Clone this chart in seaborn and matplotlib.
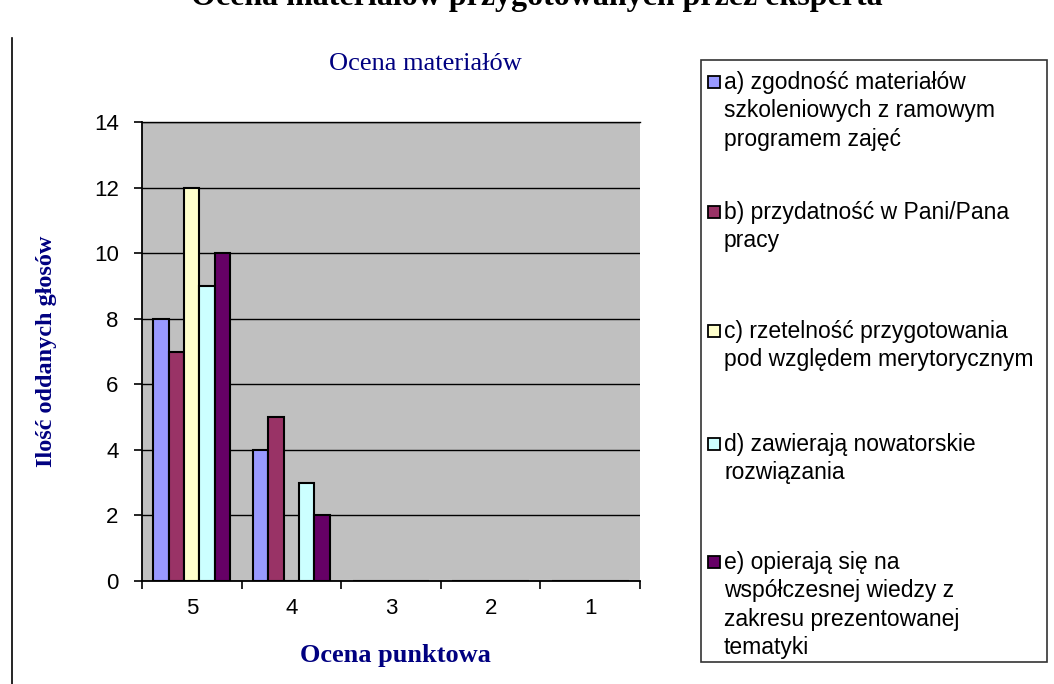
import pandas as pd
import seaborn as sns
import matplotlib.pyplot as plt
from matplotlib.patches import Rectangle
from matplotlib.lines import Line2D

# dane
oceny = ['5', '4', '3', '2', '1']
kryteria = [
    'a) zgodność materiałów\nszkoleniowych z ramowym\nprogramem zajęć',
    'b) przydatność w Pani/Pana\npracy',
    'c) rzetelność przygotowania\npod względem merytorycznym',
    'd) zawierają nowatorskie\nrozwiązania',
    'e) opierają się na\nwspółczesnej wiedzy z\nzakresu prezentowanej\ntematyki',
]
glosy_a = [8, 4, 0, 0, 0]
glosy_b = [7, 5, 0, 0, 0]
glosy_c = [12, 0, 0, 0, 0]
glosy_d = [9, 3, 0, 0, 0]
glosy_e = [10, 2, 0, 0, 0]
kolory = ['#9999FF', '#993366', '#FFFFCC', '#CCFFFF', '#660066']
y_ticks = [0, 2, 4, 6, 8, 10, 12, 14]

rows = []
for kryt, vals in zip(kryteria, [glosy_a, glosy_b, glosy_c, glosy_d, glosy_e]):
    for oc, v in zip(oceny, vals):
        rows.append({'ocena': oc, 'kryterium': kryt, 'glosy': v})
df = pd.DataFrame(rows)

plt.rcParams['font.family'] = 'Liberation Sans'

W, H = 1054, 684
def fx(px):
    return px / W
def fy(py):
    return 1 - py / H

navy = '#000080'
serif = 'Liberation Serif'

fig = plt.figure(figsize=(W / 100, H / 100), dpi=100)
ax = fig.add_axes([fx(142), fy(581), (640 - 142) / W, (581 - 122) / H])
ax.set_facecolor('#C0C0C0')

sns.barplot(data=df, x='ocena', y='glosy', hue='kryterium', order=oceny,
            hue_order=kryteria, palette=kolory, saturation=1, width=0.77,
            edgecolor='black', linewidth=1.5, legend=False, ax=ax)

ax.set_xlim(-0.5, 4.5)
ax.set_ylim(0, 14)
ax.set_yticks(y_ticks)
ax.yaxis.grid(True, color='black', linewidth=1)
ax.set_axisbelow(True)

ax.tick_params(axis='x', which='major', length=0, pad=12, labelsize=16)
ax.set_xticks([-0.5, 0.5, 1.5, 2.5, 3.5, 4.5], minor=True)
ax.tick_params(axis='x', which='minor', length=5.5, width=1.2, direction='out')
ax.tick_params(axis='y', length=5.8, width=1.2, direction='out', pad=11, labelsize=16)

for s in ['left', 'bottom']:
    ax.spines[s].set_color('black')
    ax.spines[s].set_linewidth(1.3)
ax.spines['top'].set_linewidth(1)
ax.spines['right'].set_visible(False)

ax.set_xlabel('Ocena punktowa', fontsize=19, fontweight='bold', color=navy, family=serif)
ax.xaxis.set_label_coords(0.508, (581 - 644) / 459)
ax.set_ylabel('Ilość oddanych głosów', fontsize=17.5, fontweight='bold', color=navy, family=serif)
ax.yaxis.set_label_coords(-0.171, 0.5)

# tytuły
fig.text(fx(537), fy(5), 'Ocena materiałów przygotowanych przez eksperta',
         ha='center', va='baseline', fontsize=23, fontweight='bold', family=serif)
fig.text(fx(425), fy(70), 'Ocena materiałów', ha='center', va='baseline',
         fontsize=19, color=navy, family=serif)

# linia po lewej
fig.add_artist(Line2D([fx(12), fx(12)], [fy(38), 0], transform=fig.transFigure,
                      color='black', linewidth=1.2))

# legenda
fig.add_artist(Rectangle((fx(701), fy(662)), (1047 - 701) / W, (662 - 60) / H,
                         transform=fig.transFigure, facecolor='white',
                         edgecolor='#333333', linewidth=1.2))
legend_baselines = [88, 218, 337, 450, 568]
for i, base in enumerate(legend_baselines):
    fig.add_artist(Rectangle((fx(708), fy(base)), 12 / W, 12 / H,
                             transform=fig.transFigure, facecolor=kolory[i],
                             edgecolor='black', linewidth=1.3))
    fig.text(fx(724), fy(base - 17), kryteria[i], ha='left', va='top',
             fontsize=16.5, linespacing=1.3)

fig.savefig('out.png', dpi=100)
